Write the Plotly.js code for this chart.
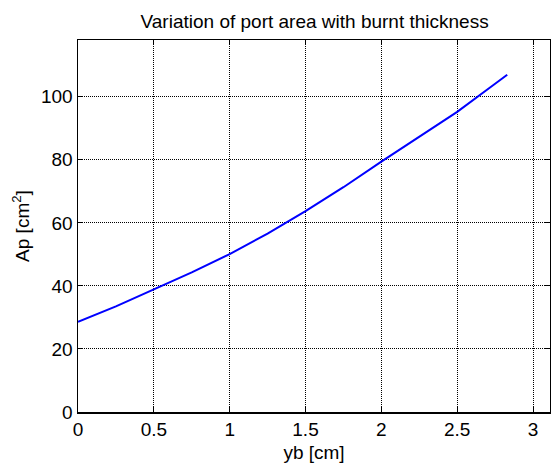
<!DOCTYPE html>
<html>
<head>
<meta charset="utf-8">
<script src="https://cdn.plot.ly/plotly-3.0.1.min.js"></script>
<style>html,body{margin:0;padding:0;background:#fff;}#chart{width:551px;height:465px;}</style>
</head>
<body>
<div id="chart"></div>
<script>
const yb = [0, 0.25, 0.5, 0.75, 1.0, 1.25, 1.5, 1.75, 2.0, 2.25, 2.5, 2.75, 2.83];
const Ap = [28.6, 33.5, 38.9, 44.3, 50.1, 56.6, 63.7, 71.3, 79.4, 87.3, 95.2, 104.1, 107.0];
const xTicks = [0, 0.5, 1, 1.5, 2, 2.5, 3];
const xTickText = ['0', '0.5', '1', '1.5', '2', '2.5', '3'];
const yTicks = [0, 20, 40, 60, 80, 100];
const yTickText = ['0', '20', '40', '60', '80', '100'];

const font = {family: 'Liberation Sans, Arial, sans-serif', size: 19, color: '#000'};
const axisCommon = {
  showline: true, linecolor: '#000', linewidth: 1.5, mirror: 'ticks',
  ticks: 'inside', ticklen: 5, tickwidth: 1, tickcolor: '#000',
  showgrid: true, gridcolor: '#000', griddash: '1px,1px', gridwidth: 1,
  zeroline: false, tickfont: font, tickmode: 'array'
};
const layout = {
  width: 551, height: 465,
  margin: {l: 78, r: 1, t: 40, b: 53},
  paper_bgcolor: '#fff', plot_bgcolor: '#fff',
  font: font,
  showlegend: false,
  title: {text: 'Variation of port area with burnt thickness', font: font, x: 0.571, xanchor: 'center', y: 0.955, yanchor: 'middle'},
  xaxis: Object.assign({}, axisCommon, {range: [0, 3.112], tickvals: xTicks, ticktext: xTickText,
    title: {text: 'yb [cm]', font: font, standoff: 6}}),
  yaxis: Object.assign({}, axisCommon, {range: [0, 118], tickvals: yTicks, ticktext: yTickText,
    title: {text: 'Ap [cm<sup>2</sup>]', font: font, standoff: 6}})
};
Plotly.newPlot('chart', [{x: yb, y: Ap, type: 'scatter', mode: 'lines', line: {color: '#0000ff', width: 2}}], layout, {staticPlot: true});
</script>
</body>
</html>
